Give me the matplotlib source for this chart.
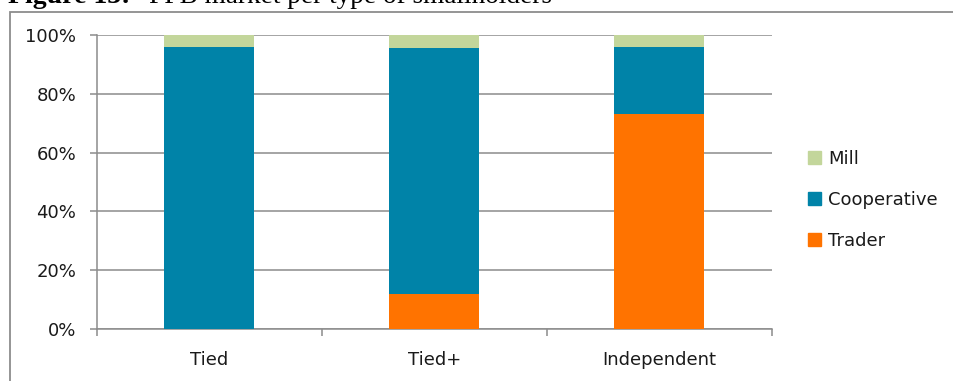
import matplotlib
matplotlib.use('Agg')
import matplotlib.pyplot as plt
from matplotlib.patches import Rectangle, Patch
import numpy as np

# share of FFB sales (%) per buyer, by smallholder type
groups = ['Tied', 'Tied+', 'Independent']
trader = [0, 12, 73]
cooperative = [96, 83.5, 23]
mill = [4, 4.5, 4]

col_trader = '#ff7300'
col_coop = '#0083a8'
col_mill = '#c3d69b'
grey = '#8c8c8c'
txt = '#1a1a1a'

fig = plt.figure(figsize=(9.54, 3.81), dpi=100)
ax = fig.add_axes([97/954, 1 - 329/381, (772 - 97)/954, (329 - 35)/381])

x = np.arange(len(groups))
w = 0.4
ax.bar(x, trader, w, color=col_trader, zorder=3)
ax.bar(x, cooperative, w, bottom=trader, color=col_coop, zorder=3)
ax.bar(x, mill, w, bottom=np.add(trader, cooperative), color=col_mill, zorder=3)

ax.set_xlim(-0.5, 2.5)
ax.set_ylim(0, 100)
ax.set_yticks(range(0, 101, 20))
ax.set_yticklabels([f'{v}%' for v in range(0, 101, 20)])
ax.yaxis.grid(True, color=grey, lw=1.1, zorder=0)

# category labels centred, tick marks on the category boundaries
ax.set_xticks(x)
ax.set_xticklabels(groups)
ax.set_xticks([-0.5, 0.5, 1.5, 2.5], minor=True)
ax.tick_params(axis='x', which='major', length=0, pad=16, labelsize=13, colors=txt)
ax.tick_params(axis='x', which='minor', length=5, width=1.1, color=grey, direction='out')
ax.tick_params(axis='y', length=5, width=1.1, color=grey, pad=10, labelsize=13, labelcolor=txt)

for s in ['top', 'right']:
    ax.spines[s].set_visible(False)
for s in ['left', 'bottom']:
    ax.spines[s].set_color(grey)
    ax.spines[s].set_linewidth(1.1)

handles = [Patch(color=col_mill, label='Mill'),
           Patch(color=col_coop, label='Cooperative'),
           Patch(color=col_trader, label='Trader')]
fig.legend(handles=handles, loc='center left', bbox_to_anchor=(792/954, 1 - 200/381),
           frameon=False, fontsize=13, handlelength=0.7, handleheight=0.7,
           handletextpad=0.4, labelspacing=1.28, labelcolor=txt)

# frame around the chart
fig.add_artist(Rectangle((10/954, -0.1), 1.2, 1.1 - 12/381, transform=fig.transFigure,
                         fill=False, edgecolor=grey, lw=1.3))

# caption above the frame
fig.text(8/954, 1 - 3/381, 'Figure 13:', family='Liberation Serif', weight='bold',
         size=20, va='baseline', color='black')
fig.text(149/954, 1 - 3/381, 'FFB market per type of smallholders', family='Liberation Serif',
         size=19.6, va='baseline', color='black')

fig.savefig('out.png', dpi=100)
